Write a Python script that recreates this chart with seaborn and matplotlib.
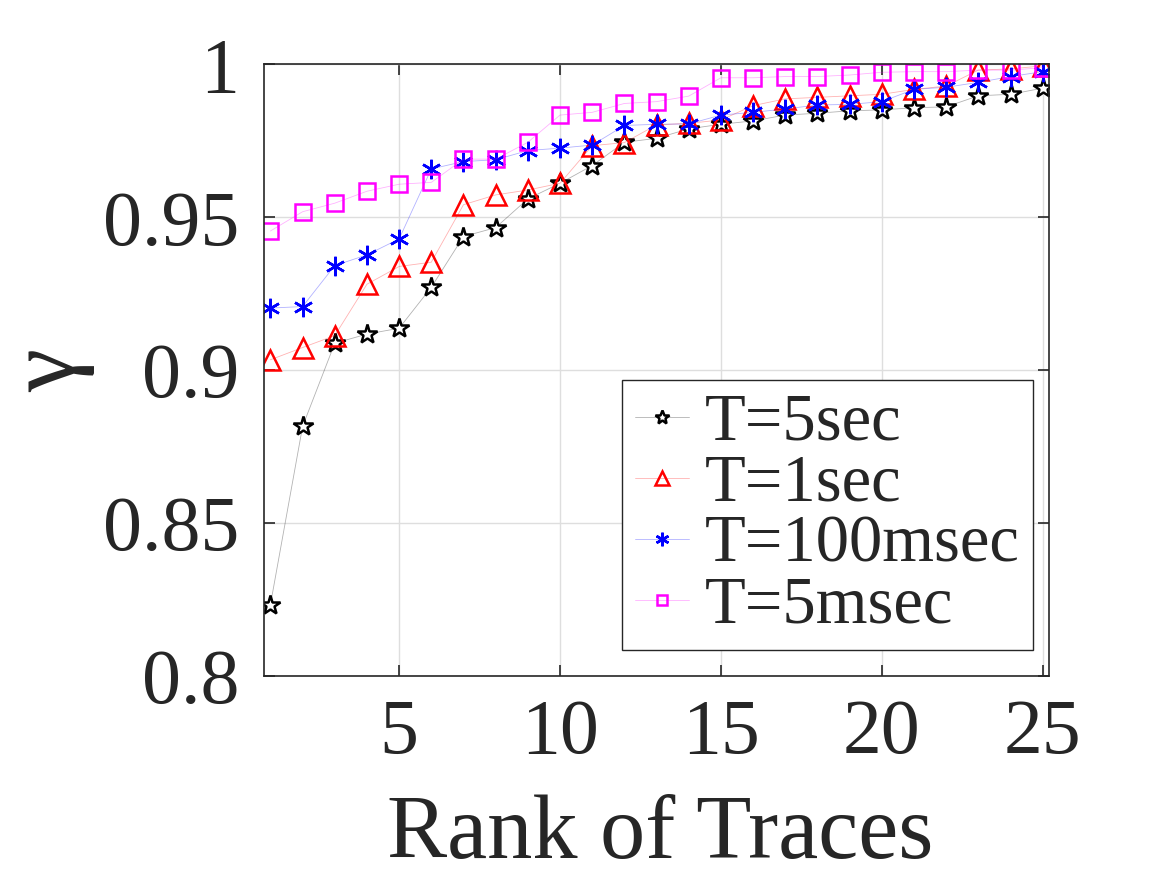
import matplotlib
matplotlib.use("Agg")
import matplotlib.pyplot as plt
import matplotlib.colors as mcolors
import seaborn as sns

rank = list(range(1, 26))

gamma_5sec = [0.8233, 0.8816, 0.9088, 0.9118, 0.9137, 0.9271, 0.9437, 0.9466, 0.9560, 0.9611,
              0.9669, 0.9745, 0.9758, 0.9789, 0.9804, 0.9815, 0.9834, 0.9840, 0.9848, 0.9851,
              0.9858, 0.9861, 0.9897, 0.9902, 0.9922]
gamma_1sec = [0.9034, 0.9074, 0.9113, 0.9281, 0.9339, 0.9353, 0.9541, 0.9573, 0.9589, 0.9611,
              0.9734, 0.9744, 0.9802, 0.9807, 0.9818, 0.9865, 0.9887, 0.9892, 0.9897, 0.9902,
              0.9918, 0.9929, 0.9981, 0.9985, 0.9995]
gamma_100msec = [0.9203, 0.9208, 0.9342, 0.9377, 0.9429, 0.9658, 0.9682, 0.9688, 0.9718, 0.9726,
                 0.9736, 0.9800, 0.9804, 0.9805, 0.9834, 0.9843, 0.9854, 0.9867, 0.9869, 0.9878,
                 0.9918, 0.9925, 0.9941, 0.9960, 0.9976]
gamma_5msec = [0.9455, 0.9518, 0.9546, 0.9585, 0.9608, 0.9614, 0.9690, 0.9690, 0.9745, 0.9834,
               0.9843, 0.9872, 0.9878, 0.9896, 0.9956, 0.9956, 0.9960, 0.9960, 0.9965, 0.9974,
               0.9976, 0.9976, 0.9981, 0.9981, 0.9989]

labels = ["T=5sec", "T=1sec", "T=100msec", "T=5msec"]
y_ticks = [0.8, 0.85, 0.9, 0.95, 1.0]
y_ticklabels = ["0.8", "0.85", "0.9", "0.95", "1"]
x_ticks = [5, 10, 15, 20, 25]

sns.set_style("ticks")
plt.rcParams["font.family"] = ["Liberation Serif", "DejaVu Serif"]
text_color = "#262626"

fig = plt.figure(figsize=(11.67, 8.75), dpi=100)
ax = fig.add_axes([0.2262, 0.2274, 0.6728, 0.6991])

styles = [
    (gamma_5sec, "black", "*", 15, "white"),
    (gamma_1sec, "red", "^", 14, "none"),
    (gamma_100msec, "blue", (6, 2, 0), 14, "blue"),
    (gamma_5msec, "magenta", "s", 11, "none"),
]
for (vals, col, mk, ms, mfc), lab in zip(styles, labels):
    sns.lineplot(x=rank, y=vals, ax=ax, color=col, linewidth=0.6,
                 marker=mk, markersize=ms, markerfacecolor=mfc, markeredgecolor=col,
                 markeredgewidth=1.8, label=lab)
    ln = ax.lines[-1]
    ln.set_color((*mcolors.to_rgb(col), 0.3))
    ln.set_markeredgecolor(col)
    ln.set_markerfacecolor(mfc)

ax.set_xlim(0.8, 25.2)
ax.set_ylim(0.8, 1.0)
ax.set_xticks(x_ticks)
ax.set_yticks(y_ticks)
ax.set_yticklabels(y_ticklabels)
ax.grid(True, color="#dedede", linewidth=1.0)
ax.tick_params(direction="in", length=8, width=1.2, colors=text_color,
               top=True, right=True, labelsize=56)
ax.tick_params(axis="x", pad=16)
ax.tick_params(axis="y", pad=18)
for s in ax.spines.values():
    s.set_color(text_color)
    s.set_linewidth(1.2)

ax.set_xlabel("Rank of Traces", fontsize=65, color=text_color)
ax.xaxis.set_label_coords(0.504, -0.193)
ax.set_ylabel("γ", fontsize=70, color=text_color)
ax.yaxis.set_label_coords(-0.215, 0.5)

leg = ax.legend(loc="lower right", bbox_to_anchor=(0.98, 0.042), fontsize=48,
                frameon=True, fancybox=False, edgecolor=text_color, framealpha=1,
                handlelength=0.8, handletextpad=0.25, labelspacing=0.0,
                borderpad=0.2, borderaxespad=0)
leg.get_frame().set_linewidth(1.0)
for h, (vals, col, mk, ms, mfc) in zip(leg.get_lines(), styles):
    h.set_color((*mcolors.to_rgb(col), 0.3))
    h.set_markeredgecolor(col)
    h.set_markerfacecolor(mfc)
    h.set_markersize(ms * 0.7)

fig.savefig("out.png", dpi=100)
